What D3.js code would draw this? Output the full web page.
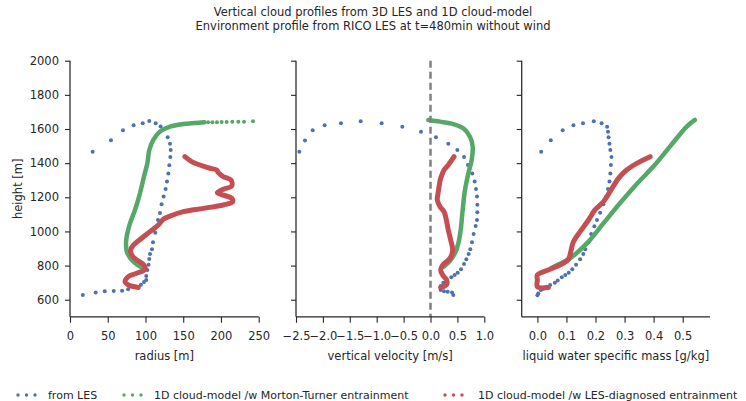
<!DOCTYPE html>
<meta charset="utf-8">
<style>
  body { margin: 0; background: #fff; }
  text { font-family: "DejaVu Sans", sans-serif; fill: #262626; }
</style>
<svg width="746" height="401"></svg>
<script src="https://d3js.org/d3.v7.min.js"></script>
<script>

// [value, height] pairs
var lesRadius = [[17,628],[34,643],[46,649],[58,651],[69,653],[77,661],[94,688],[98,704],[101,716],[101,739],
  [102.5,774],[104,805],[105,838],[106,868],[108.6,895],[110,936],[113,993],[114.4,1028],[116.6,1067],[119.2,1108],
  [121.4,1159],[124,1204],[126.7,1249],[128.5,1293],[130.3,1340],[131.6,1387],[132.9,1436],[133.4,1477],[132.5,1514],
  [129.4,1551],[120,1614],[113.5,1633],[105,1647],[96.3,1633],[84.3,1622],[70.2,1592],[54.3,1534],[30,1467]];
var mtRadius = [[97,784],[84,823],[76,872],[74.2,930],[76,989],[79.5,1047],[86.1,1126],[92.7,1223],[98,1321],
  [102.5,1399],[105.1,1477],[110.4,1536],[119.2,1585],[132.5,1614],[150,1629],[165,1635],[178,1639]];
var mtRadiusTop = [[183,1639],[188.6,1640],[194.7,1640],[200.9,1641],[207.5,1641],[215,1642],[223,1643],[230.5,1643],[242.4,1645]];
var ldRadius = [[90.5,672],[77.3,686],[72.9,706],[77.3,735],[88.3,755],[99.4,778],[98,803],[88.3,833],[81.7,862],
  [80.4,891],[83.9,920],[94.9,960],[106,999],[117,1038],[123.6,1071],[132.5,1090],[150,1116],[176.6,1135],[203,1155],
  [215.5,1174],[214.2,1194],[203,1213],[195.2,1227],[203,1247],[214.2,1266],[213.3,1301],[203,1321],[196.5,1344],
  [194.3,1360],[185.5,1370],[172.2,1389],[161.2,1409],[152.3,1438]];

var lesVelocity = [[0.424,628],[0.4,643],[0.319,647],[0.251,649],[0.189,657],[0.189,680],[0.238,700],[0.387,731],
  [0.449,745],[0.505,758],[0.567,778],[0.623,809],[0.666,837],[0.709,868],[0.74,895],[0.771,936],[0.802,985],
  [0.839,1032],[0.864,1067],[0.87,1112],[0.87,1157],[0.864,1204],[0.846,1249],[0.821,1293],[0.777,1340],[0.697,1389],
  [0.623,1436],[0.499,1477],[0.331,1514],[0.102,1551],[-0.177,1584],[-0.524,1613],[-0.908,1633],[-1.298,1645],
  [-1.664,1633],[-1.967,1622],[-2.19,1592],[-2.333,1532],[-2.438,1467]];
var mtVelocity = [[0.251,794],[0.35,823],[0.455,872],[0.517,930],[0.561,1008],[0.598,1126],[0.641,1243],
  [0.703,1340],[0.765,1418],[0.784,1497],[0.734,1555],[0.61,1604],[0.424,1629],[0.177,1643],[-0.04,1653]];
var ldVelocity = [[0.189,671],[0.3,690],[0.3,715],[0.226,745],[0.189,774],[0.226,803],[0.362,842],[0.412,891],
  [0.375,950],[0.331,1008],[0.288,1077],[0.251,1116],[0.177,1145],[0.127,1184],[0.145,1233],[0.164,1272],
  [0.189,1311],[0.251,1360],[0.331,1389],[0.437,1438]];

var lesLwc = [[0,626],[0.003,637],[0.012,657],[0.02,665],[0.032,676],[0.044,686],[0.06,700],[0.07,713],[0.084,731],
  [0.096,745],[0.108,758],[0.12,778],[0.133,805],[0.147,837],[0.158,868],[0.165,895],[0.176,936],[0.185,985],
  [0.196,1030],[0.205,1067],[0.216,1110],[0.227,1159],[0.237,1204],[0.243,1249],[0.248,1293],[0.251,1340],
  [0.253,1389],[0.255,1436],[0.251,1477],[0.248,1514],[0.245,1551],[0.243,1584],[0.24,1613],[0.221,1633],
  [0.194,1645],[0.157,1633],[0.124,1622],[0.087,1592],[0.046,1534],[0.013,1467]];
var mtLwc = [[0.047,784],[0.07,805],[0.112,842],[0.17,930],[0.227,1047],[0.284,1165],[0.342,1278],[0.399,1380],
  [0.456,1497],[0.514,1614],[0.542,1653]];
var ldLwc = [[0.038,672],[0,676],[0,716],[0,745],[0.044,778],[0.089,813],[0.107,837],[0.115,882],[0.124,940],
  [0.147,999],[0.176,1067],[0.198,1126],[0.227,1174],[0.25,1233],[0.279,1311],[0.307,1360],[0.342,1399],[0.388,1438]];

var heightTicks = d3.range(600, 2001, 200);
var titleLines = ["Vertical cloud profiles from 3D LES and 1D cloud-model",
                  "Environment profile from RICO LES at t=480min without wind"];
var legendLabels = ["from LES", "1D cloud-model /w Morton-Turner entrainment", "1D cloud-model /w LES-diagnosed entrainment"];
var colors = ["#4c72b0", "#55a868", "#c44e52"];

var panels = [
  {x0: 70, x1: 258.7, domain: [0, 250], ticks: d3.range(0, 251, 50), fmt: d3.format("d"),
   label: "radius [m]", les: lesRadius, mt: mtRadius, mtTop: mtRadiusTop, ld: ldRadius, yLabels: true},
  {x0: 296, x1: 484.3, domain: [-2.5, 1.0], ticks: d3.range(-2.5, 1.01, 0.5), fmt: d3.format(".1f"),
   label: "vertical velocity [m/s]", les: lesVelocity, mt: mtVelocity, mtTop: [], ld: ldVelocity, zero: true},
  {x0: 521.7, x1: 710, domain: [-0.054, 0.594], ticks: d3.range(0, 0.51, 0.1), fmt: d3.format(".1f"),
   label: "liquid water specific mass [g/kg]", les: lesLwc, mt: mtLwc, mtTop: [], ld: ldLwc}
];

var fs = 11.5;
var svg = d3.select("svg");
var yTop = 60.7, yBottom = 316.8;
var y = d3.scaleLinear().domain([500, 2000]).range([yBottom, yTop]);

svg.selectAll(".title").data(titleLines).enter().append("text")
  .attr("x", 373).attr("y", function(d, i) { return 16 + i * 14; })
  .attr("text-anchor", "middle").attr("font-size", fs).text(function(d) { return d; });

panels.forEach(function(p) {
  var x = d3.scaleLinear().domain(p.domain).range([p.x0, p.x1]);
  var g = svg.append("g");

  var line = d3.line().x(function(d) { return x(d[0]); }).y(function(d) { return y(d[1]); })
    .curve(d3.curveCatmullRom);

  g.append("g").selectAll("circle").data(p.les).enter().append("circle")
    .attr("cx", function(d) { return x(d[0]); }).attr("cy", function(d) { return y(d[1]); })
    .attr("r", 2).attr("fill", colors[0]);

  g.append("path").attr("d", line(p.mt)).attr("fill", "none")
    .attr("stroke", colors[1]).attr("stroke-width", 4.5).attr("stroke-linecap", "round").attr("stroke-linejoin", "round");
  g.append("g").selectAll("circle").data(p.mtTop).enter().append("circle")
    .attr("cx", function(d) { return x(d[0]); }).attr("cy", function(d) { return y(d[1]); })
    .attr("r", 2).attr("fill", colors[1]);

  g.append("path").attr("d", line(p.ld)).attr("fill", "none")
    .attr("stroke", colors[2]).attr("stroke-width", 5).attr("stroke-linecap", "round").attr("stroke-linejoin", "round");

  if (p.zero) {
    g.append("line").attr("x1", x(0)).attr("x2", x(0)).attr("y1", yTop).attr("y2", yBottom)
      .attr("stroke", "#808080").attr("stroke-width", 2.5).attr("stroke-dasharray", "7,4");
  }

  var xAxis = g.append("g").attr("transform", "translate(0," + yBottom + ")")
    .call(d3.axisBottom(x).tickValues(p.ticks).tickFormat(p.fmt).tickSize(6).tickSizeOuter(0).tickPadding(9));
  var yAxis = g.append("g").attr("transform", "translate(" + p.x0 + ",0)")
    .call(d3.axisLeft(y).tickValues(heightTicks).tickFormat(p.yLabels ? d3.format("d") : "")
      .tickSize(5).tickSizeOuter(0).tickPadding(6));
  [xAxis, yAxis].forEach(function(a) {
    a.select(".domain").attr("stroke", "#262626").attr("stroke-width", 1.25);
    a.selectAll(".tick line").attr("stroke", "#262626").attr("stroke-width", 1.1);
    a.selectAll("text").attr("font-size", fs).attr("font-family", "DejaVu Sans").attr("fill", "#262626");
  });
  xAxis.select(".domain").attr("d", "M" + p.x0 + ",0H" + p.x1);
  yAxis.select(".domain").attr("d", "M0," + yBottom + "V" + yTop);

  g.append("text").attr("x", (p.x0 + p.x1) / 2).attr("y", 360)
    .attr("text-anchor", "middle").attr("font-size", fs).text(p.label);
});

svg.append("text").attr("transform", "translate(22," + (yTop + yBottom) / 2 + ") rotate(-90)")
  .attr("text-anchor", "middle").attr("font-size", fs).text("height [m]");

var legendX = [[18, 48], [124, 154], [445, 478]];
var legend = svg.selectAll(".legend").data(legendLabels).enter().append("g");
legend.each(function(d, i) {
  var lg = d3.select(this);
  [0, 8.5, 17].forEach(function(dx) {
    lg.append("circle").attr("cx", legendX[i][0] + dx).attr("cy", 395).attr("r", 1.7).attr("fill", colors[i]);
  });
  lg.append("text").attr("x", legendX[i][1]).attr("y", 399).attr("font-size", 11).text(d);
});
</script>
